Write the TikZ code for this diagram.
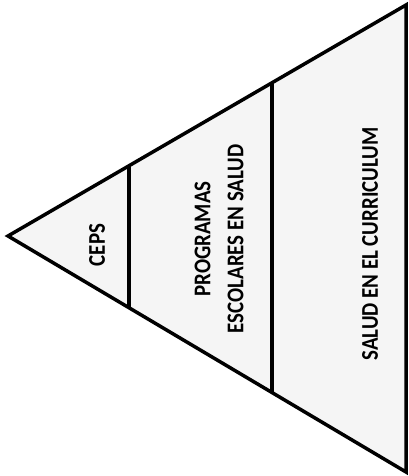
\documentclass[tikz,border=0pt]{standalone}
\usepackage{fontspec}
\setsansfont{Carlito}
\usepackage{tikz}
\usetikzlibrary{calc}
\tikzset{
  tierlabel/.style={rotate=90, xscale=0.87, font=\sffamily\bfseries\fontsize{24}{33}\selectfont, align=center, inner sep=0pt},
  outline/.style={line width=3.5pt, line join=miter},
  divider/.style={line width=4pt}
}
\begin{document}
\begin{tikzpicture}[x=1pt,y=1pt]
  \useasboundingbox (0,0) rectangle (408,476);
  \coordinate (apex) at (8,240);
  \coordinate (topr) at (406,471);
  \coordinate (botr) at (406,4);
  \fill[color=black!4] (apex) -- (topr) -- (botr) -- cycle;
  \draw[outline] (apex) -- (topr) -- (botr) -- cycle;
  \draw[divider] ($(apex)!0.304!(topr)$) -- ($(apex)!0.304!(botr)$);
  \draw[divider] ($(apex)!0.663!(topr)$) -- ($(apex)!0.663!(botr)$);
  \node[tierlabel] (ceps) at (97,231) {CEPS};
  \node[tierlabel] (programas) at (219,237) {PROGRAMAS\\ESCOLARES EN SALUD};
  \node[tierlabel] (curriculum) at (370,232) {SALUD EN EL CURRICULUM};
\end{tikzpicture}
\end{document}
